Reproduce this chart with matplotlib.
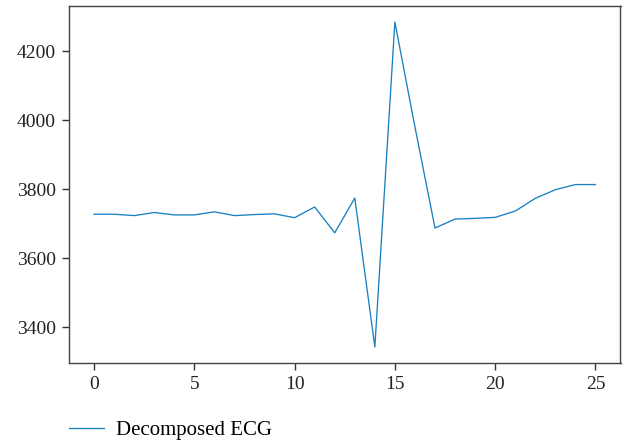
import matplotlib
matplotlib.use("Agg")
import matplotlib.pyplot as plt

x = list(range(26))
ecg = [3727, 3727, 3723, 3732, 3725, 3725, 3734, 3723, 3726, 3728,
       3717, 3748, 3673, 3774, 3342, 4284, 3980, 3687, 3713, 3715,
       3718, 3736, 3773, 3798, 3813, 3813]
label = "Decomposed ECG"

plt.rcParams['font.family'] = ['Liberation Serif', 'DejaVu Serif']

fig = plt.figure(figsize=(6.25, 4.43), dpi=100)
ax = fig.add_axes([0.1104, 0.1799, 0.8824, 0.807])
ax.plot(x, ecg, color='#1a80c0', lw=0.95, label=label)
ax.set_yticks([3400, 3600, 3800, 4000, 4200])
ax.set_xticks([0, 5, 10, 15, 20, 25])
for s in ax.spines.values():
    s.set_color('#444444')
    s.set_linewidth(1.0)
ax.tick_params(colors='#333333', labelsize=14, length=5, width=1.0, pad=4.5,
               labelcolor='#222222')
h, l = ax.get_legend_handles_labels()
fig.legend(h, l, loc='center left', bbox_to_anchor=(69 / 625, 1 - 430.7 / 443),
           frameon=False, fontsize=15, handlelength=1.68, handletextpad=0.6,
           borderpad=0, borderaxespad=0)
fig.savefig("out.png", dpi=100)
